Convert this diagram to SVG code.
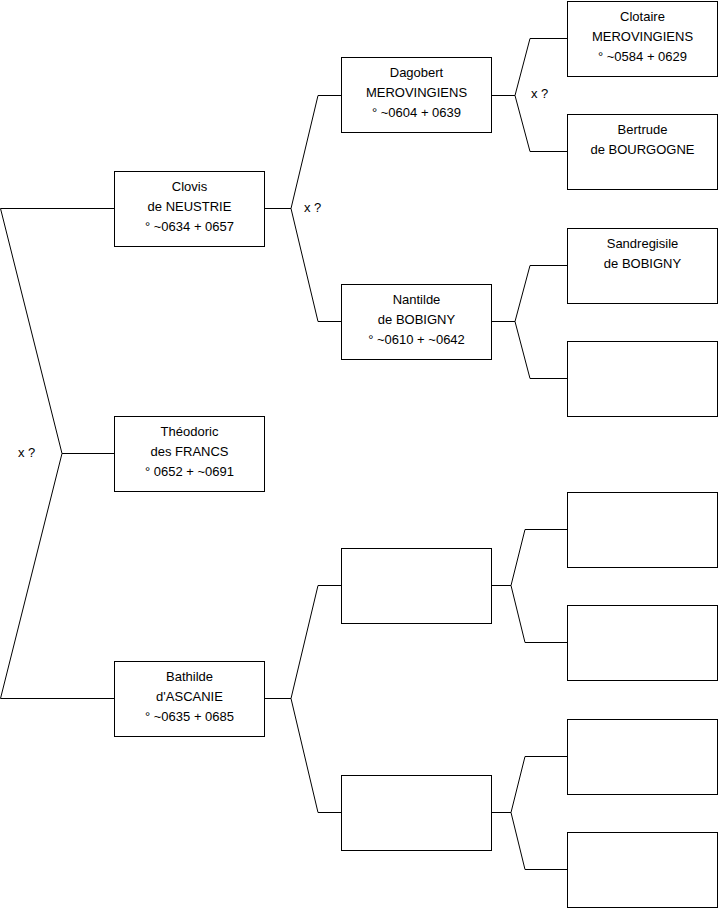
<svg xmlns="http://www.w3.org/2000/svg" width="719" height="908" viewBox="0 0 719 908">
<style>
.box{fill:#fff;stroke:#000;stroke-width:1}
.c{fill:none;stroke:#000;stroke-width:1}
text{font-family:"Liberation Sans",Arial,sans-serif;font-size:13px;fill:#000}
.m{text-anchor:middle}
</style>
<rect width="719" height="908" fill="#fff"/>
<g id="connectors">
<polyline class="c" points="114,208.5 0.5,208.5 62,453.5 0.5,698.5 114,698.5"/>
<line class="c" x1="62" y1="453.5" x2="114" y2="453.5"/>
<polyline class="c" points="341,95.5 318,95.5 291,208.5 318,321.5 341,321.5"/>
<line class="c" x1="265" y1="208.5" x2="291" y2="208.5"/>
<polyline class="c" points="341,585.5 318,585.5 291,698.5 318,812.5 341,812.5"/>
<line class="c" x1="265" y1="698.5" x2="291" y2="698.5"/>
<polyline class="c" points="567,38.5 530,38.5 515,95.5 530,151.5 567,151.5"/>
<line class="c" x1="492" y1="95.5" x2="515" y2="95.5"/>
<polyline class="c" points="567,265.5 530,265.5 515,321.5 530,378.5 567,378.5"/>
<line class="c" x1="492" y1="321.5" x2="515" y2="321.5"/>
<polyline class="c" points="567,529.5 525,529.5 511,585.5 525,642.5 567,642.5"/>
<line class="c" x1="492" y1="585.5" x2="511" y2="585.5"/>
<polyline class="c" points="567,756.5 525,756.5 511,812.5 525,869.5 567,869.5"/>
<line class="c" x1="492" y1="812.5" x2="511" y2="812.5"/>
<text x="18" y="456.5">x ?</text>
<text x="304" y="211.5">x ?</text>
<text x="531" y="97.5">x ?</text>
</g>
<g id="clovis"><rect class="box" x="114.5" y="171.5" width="150" height="75"/>
<text class="m" x="189.5" y="191">Clovis</text><text class="m" x="189.5" y="211">de NEUSTRIE</text><text class="m" x="189.5" y="230.5">° ~0634 + 0657</text></g>
<g id="theodoric"><rect class="box" x="114.5" y="416.5" width="150" height="75"/>
<text class="m" x="189.5" y="436">Théodoric</text><text class="m" x="189.5" y="456">des FRANCS</text><text class="m" x="189.5" y="475.5">° 0652 + ~0691</text></g>
<g id="bathilde"><rect class="box" x="114.5" y="661.5" width="150" height="75"/>
<text class="m" x="189.5" y="681">Bathilde</text><text class="m" x="189.5" y="701">d'ASCANIE</text><text class="m" x="189.5" y="720.5">° ~0635 + 0685</text></g>
<g id="dagobert"><rect class="box" x="341.5" y="57.5" width="150" height="75"/>
<text class="m" x="416.5" y="77">Dagobert</text><text class="m" x="416.5" y="97">MEROVINGIENS</text><text class="m" x="416.5" y="116.5">° ~0604 + 0639</text></g>
<g id="nantilde"><rect class="box" x="341.5" y="284.5" width="150" height="75"/>
<text class="m" x="416.5" y="304">Nantilde</text><text class="m" x="416.5" y="324">de BOBIGNY</text><text class="m" x="416.5" y="343.5">° ~0610 + ~0642</text></g>
<g id="empty2a"><rect class="box" x="341.5" y="548.5" width="150" height="75"/></g>
<g id="empty2b"><rect class="box" x="341.5" y="775.5" width="150" height="75"/></g>
<g id="clotaire"><rect class="box" x="567.5" y="1.5" width="150" height="75"/>
<text class="m" x="642.5" y="21">Clotaire</text><text class="m" x="642.5" y="41">MEROVINGIENS</text><text class="m" x="642.5" y="60.5">° ~0584 + 0629</text></g>
<g id="bertrude"><rect class="box" x="567.5" y="114.5" width="150" height="75"/>
<text class="m" x="642.5" y="134">Bertrude</text><text class="m" x="642.5" y="154">de BOURGOGNE</text></g>
<g id="sandregisile"><rect class="box" x="567.5" y="228.5" width="150" height="75"/>
<text class="m" x="642.5" y="248">Sandregisile</text><text class="m" x="642.5" y="268">de BOBIGNY</text></g>
<g id="empty3a"><rect class="box" x="567.5" y="341.5" width="150" height="75"/></g>
<g id="empty3b"><rect class="box" x="567.5" y="492.5" width="150" height="75"/></g>
<g id="empty3c"><rect class="box" x="567.5" y="605.5" width="150" height="75"/></g>
<g id="empty3d"><rect class="box" x="567.5" y="719.5" width="150" height="75"/></g>
<g id="empty3e"><rect class="box" x="567.5" y="832.5" width="150" height="75"/></g>
</svg>
